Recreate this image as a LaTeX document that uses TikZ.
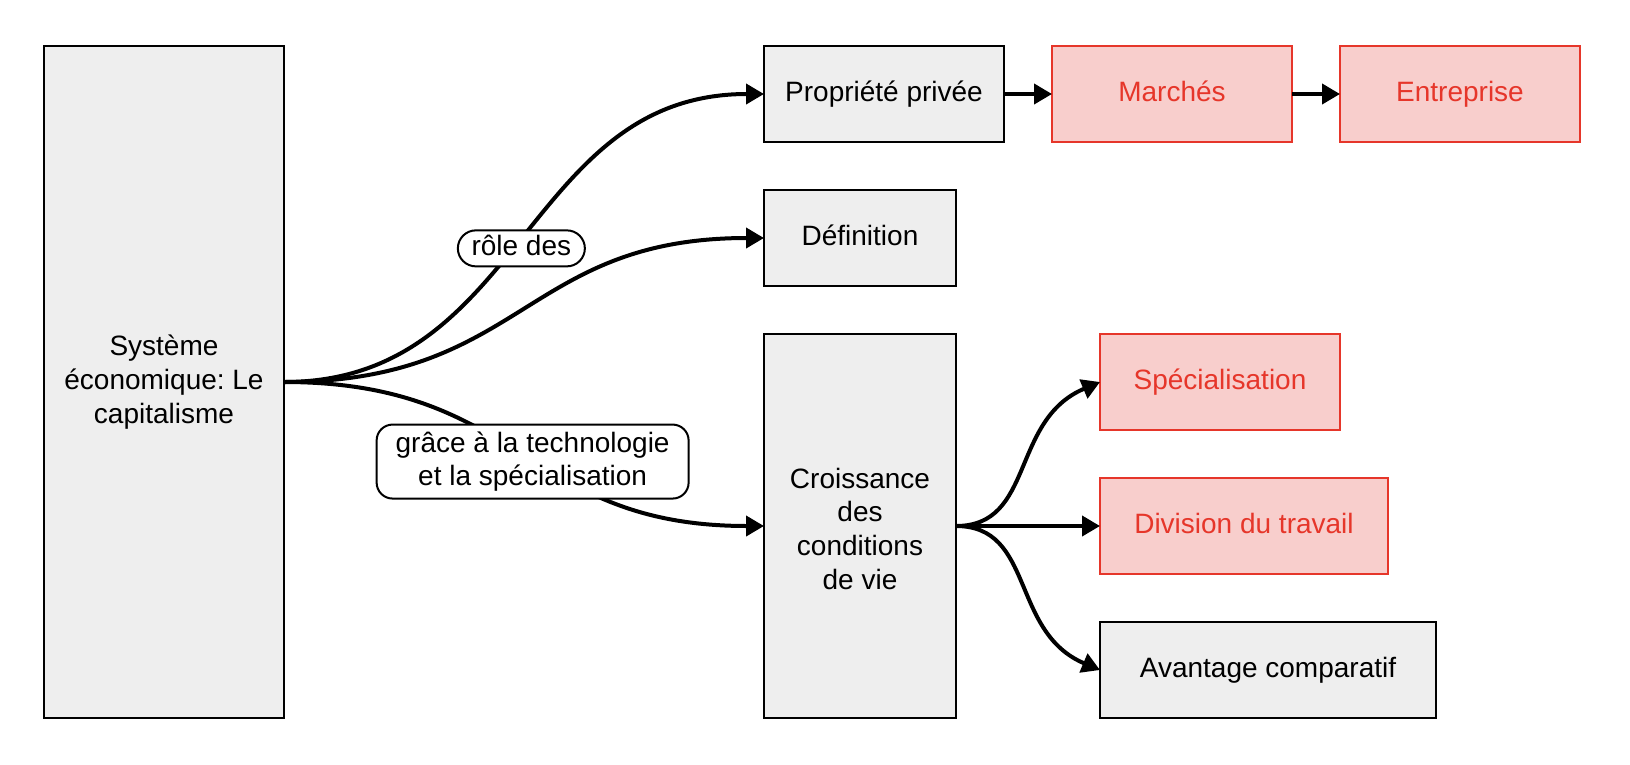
\documentclass[tikz,border=0pt]{standalone}
\usepackage{fontspec}
\setmainfont{Liberation Sans}
\usetikzlibrary{arrows.meta}
\definecolor{boxgray}{HTML}{EEEEEE}
\definecolor{redfill}{HTML}{F8CECC}
\definecolor{redline}{HTML}{E6362A}
\begin{document}
\frenchspacing
\begin{tikzpicture}[x=1pt,y=-1pt,
  every node/.style={font=\frenchspacing\fontsize{28}{33.6}\selectfont, align=center, inner sep=0pt, outer sep=0pt},
  graybox/.style={draw=black, line width=2pt, fill=boxgray, text=black, rectangle},
  redbox/.style={draw=redline, line width=2pt, fill=redfill, text=redline, rectangle},
  oneline/.style={text height=20pt, text depth=6pt},
  lbl/.style={draw=black, line width=2pt, fill=white, text=black},
  conn/.style={draw=black, line width=4pt, -{Triangle[length=18pt,width=20pt]}}
]
\fill[white] (0,0) rectangle (1630,764);
\useasboundingbox (0,0) rectangle (1630,764);

\node[graybox, minimum width=240pt, minimum height=672pt] (main) at (164,382) {Système\\économique: Le\\capitalisme};
\node[graybox, oneline, minimum width=240pt, minimum height=96pt] (prop) at (884,94) {Propriété privée};
\node[redbox, oneline, minimum width=240pt, minimum height=96pt] (march) at (1172,94) {Marchés};
\node[redbox, oneline, minimum width=240pt, minimum height=96pt] (entr) at (1460,94) {Entreprise};
\node[graybox, oneline, minimum width=192pt, minimum height=96pt] (def) at (860,238) {Définition};
\node[graybox, text height=126pt, text depth=0pt, minimum width=192pt, minimum height=384pt] (crois) at (860,526) {Croissance\\des\\conditions\\de vie};
\node[redbox, oneline, minimum width=240pt, minimum height=96pt] (spec) at (1220,382) {Spécialisation};
\node[redbox, oneline, minimum width=288pt, minimum height=96pt] (div) at (1244,526) {Division du travail};
\node[graybox, oneline, minimum width=336pt, minimum height=96pt] (avant) at (1268,670) {Avantage comparatif};

\draw[conn] (main.east) .. controls (524,382) and (524,238) .. (def.west);
\draw[conn] (main.east) .. controls (524,382) and (524,94) .. (prop.west)
  node[lbl, oneline, pos=0.476, xshift=6pt, minimum width=127pt, minimum height=36pt, rounded corners=18pt] {rôle des};
\draw[conn] (main.east) .. controls (524,382) and (524,526) .. (crois.west)
  node[lbl, pos=0.535, xshift=-4pt, minimum width=312pt, minimum height=74pt, rounded corners=16pt] {grâce à la technologie\\et la spécialisation};

\draw[conn] (prop.east) -- (march.west);
\draw[conn] (march.east) -- (entr.west);

\draw[conn] (crois.east) .. controls (1035,526) and (1010,420) .. (spec.west);
\draw[conn] (crois.east) -- (div.west);
\draw[conn] (crois.east) .. controls (1035,526) and (1010,632) .. (avant.west);
\end{tikzpicture}
\end{document}
